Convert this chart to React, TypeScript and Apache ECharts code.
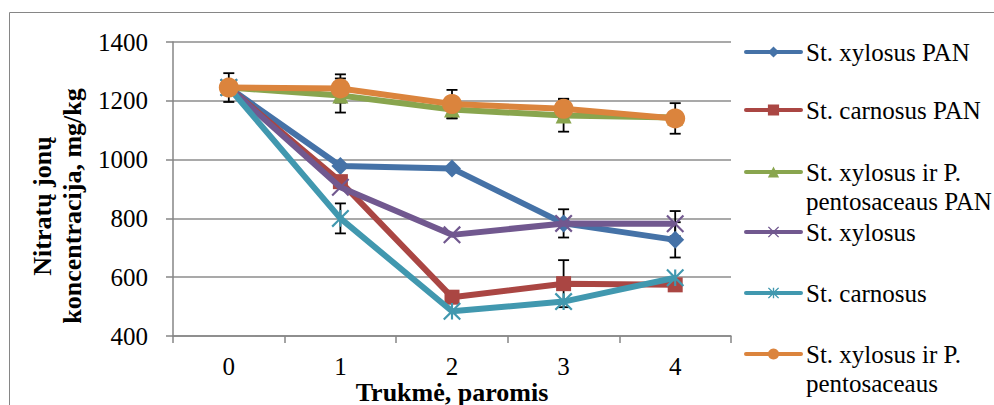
import React, { useEffect, useRef } from "react";
import * as echarts from "echarts";

const categories = ["0", "1", "2", "3", "4"];
const seriesNames = [
  "St. xylosus PAN",
  "St. carnosus PAN",
  "St. xylosus ir P. pentosaceaus PAN",
  "St. xylosus",
  "St. carnosus",
  "St. xylosus ir P. pentosaceaus",
];
const legendLines = [
  ["St. xylosus PAN"],
  ["St. carnosus PAN"],
  ["St. xylosus ir P.", "pentosaceaus PAN"],
  ["St. xylosus"],
  ["St. carnosus"],
  ["St. xylosus ir P.", "pentosaceaus"],
];
const xylosusPAN = [1245, 978, 970, 783, 727];
const carnosusPAN = [1245, 925, 532, 578, 574];
const xylosusPentoPAN = [1245, 1218, 1170, 1150, 1143];
const xylosus = [1245, 906, 744, 783, 782];
const carnosus = [1245, 800, 484, 517, 598];
const xylosusPento = [1245, 1242, 1189, 1173, 1140];
const seriesValues = [xylosusPAN, carnosusPAN, xylosusPentoPAN, xylosus, carnosus, xylosusPento];

const errXylosusPAN = [null, null, null, 48, 60];
const errCarnosusPAN = [null, null, null, 80, null];
const errXylosusPentoPAN = [null, 58, 30, 55, null];
const errXylosus = [null, null, null, null, 43];
const errCarnosus = [null, 51, null, null, null];
const errXylosusPento = [49, 48, 48, 34, 52];
const seriesErrors = [errXylosusPAN, errCarnosusPAN, errXylosusPentoPAN, errXylosus, errCarnosus, errXylosusPento];

const yTicks = { min: 400, max: 1400, interval: 200 };
const xTitle = "Trukmė, paromis";
const yTitle = "Nitratų jonų\nkoncentracija, mg/kg";

const colors = ["#4572A7", "#AA4643", "#89A54E", "#71588F", "#4198AF", "#DB843D"];
const FONT = "'Liberation Serif', 'Times New Roman', serif";

function armsPath(arms: { a: number; l: number }[], w: number): string {
  const sorted = [...arms].sort((p, q) => p.a - q.a);
  const pts: [number, number][] = [];
  const n = sorted.length;
  for (let i = 0; i < n; i++) {
    const { a, l } = sorted[i];
    const r = (a * Math.PI) / 180;
    const cx = l * Math.cos(r);
    const cy = l * Math.sin(r);
    const nx = -Math.sin(r) * (w / 2);
    const ny = Math.cos(r) * (w / 2);
    pts.push([cx - nx, cy - ny]);
    pts.push([cx + nx, cy + ny]);
    const next = sorted[(i + 1) % n];
    let gap = next.a - a;
    if (gap <= 0) gap += 360;
    const m = ((a + gap / 2) * Math.PI) / 180;
    const rr = w / 2 / Math.sin(((gap / 2) * Math.PI) / 180);
    pts.push([rr * Math.cos(m), rr * Math.sin(m)]);
  }
  return (
    "path://" +
    pts.map((p, i) => (i === 0 ? "M" : "L") + (p[0] + 20).toFixed(2) + "," + (p[1] + 20).toFixed(2)).join(" ") +
    " Z"
  );
}

const xSymbol = armsPath(
  [
    { a: 45, l: 14 },
    { a: 135, l: 14 },
    { a: 225, l: 14 },
    { a: 315, l: 14 },
  ],
  2.6
);
const starSymbol = armsPath(
  [
    { a: 45, l: 14 },
    { a: 90, l: 10 },
    { a: 135, l: 14 },
    { a: 225, l: 14 },
    { a: 270, l: 10 },
    { a: 315, l: 14 },
  ],
  2.6
);

const symbols = ["diamond", "rect", "triangle", xSymbol, starSymbol, "circle"];
const symbolSizes = [18, 15, 16, 18, 18, 20];

const legendTops = [37.5, 95.5, 128.5, 217.5, 278.5, 310.5];

export default function App() {
  const ref = useRef<HTMLDivElement>(null);
  useEffect(() => {
    if (!ref.current) return;
    const chart = echarts.init(ref.current, undefined, { renderer: "svg" });

    const lineSeries = seriesNames.map((name, i) => ({
      name,
      type: "line",
      data: seriesValues[i],
      symbol: symbols[i],
      symbolSize: symbolSizes[i],
      symbolKeepAspect: true,
      showAllSymbol: true,
      lineStyle: { color: colors[i], width: 6 },
      itemStyle: { color: colors[i], borderWidth: 0 },
      z: 3 + i,
      emphasis: { disabled: true },
    }));

    const errData: number[][] = [];
    seriesErrors.forEach((errs, si) => {
      errs.forEach((e, ci) => {
        if (e != null) {
          const v = seriesValues[si][ci];
          errData.push([ci, v + e, v - e]);
        }
      });
    });

    const errorSeries = {
      name: "errors",
      type: "custom",
      z: 2,
      data: errData,
      encode: { x: 0, y: [1, 2] },
      renderItem: (params: any, api: any) => {
        const hi = api.coord([api.value(0), api.value(1)]);
        const lo = api.coord([api.value(0), api.value(2)]);
        const c = 5.5;
        const st = { stroke: "#000", lineWidth: 1.8, fill: null };
        return {
          type: "group",
          children: [
            { type: "line", shape: { x1: hi[0], y1: hi[1], x2: lo[0], y2: lo[1] }, style: st },
            { type: "line", shape: { x1: hi[0] - c, y1: hi[1], x2: hi[0] + c, y2: hi[1] }, style: st },
            { type: "line", shape: { x1: lo[0] - c, y1: lo[1], x2: lo[0] + c, y2: lo[1] }, style: st },
          ],
        };
      },
    };

    const legends = seriesNames.map((name, i) => ({
      show: true,
      orient: "vertical",
      left: 744,
      top: legendTops[i],
      padding: 0,
      itemWidth: 55,
      itemHeight: 14,
      selectedMode: false,
      data: [name],
      lineStyle: { width: 4, cap: "round" },
      formatter: () => {
        const ls = legendLines[i];
        return ls.length > 1 ? "\n" + ls.join("\n") : ls[0];
      },
      textStyle: { fontFamily: FONT, fontSize: 25, lineHeight: 29, color: "#000" },
    }));

    chart.setOption({
      animation: false,
      backgroundColor: "#fff",
      grid: { left: 173, right: 263, top: 42, bottom: 69, containLabel: false, outerBoundsMode: "none" },
      legend: legends,
      xAxis: {
        type: "category",
        data: categories,
        boundaryGap: true,
        name: xTitle,
        nameLocation: "middle",
        nameGap: 46,
        nameMoveOverlap: false,
        nameTextStyle: { fontFamily: FONT, fontSize: 26, fontWeight: "bold", color: "#000", lineHeight: 20 },
        axisLine: { show: true, lineStyle: { color: "#868686", width: 1.5 } },
        axisTick: { show: true, length: 7, alignWithLabel: false, lineStyle: { color: "#868686", width: 1.5 } },
        axisLabel: { fontFamily: FONT, fontSize: 25, color: "#000", margin: 19, lineHeight: 22 },
        splitLine: { show: false },
      },
      yAxis: {
        type: "value",
        min: yTicks.min,
        max: yTicks.max,
        interval: yTicks.interval,
        axisLine: { show: true, lineStyle: { color: "#868686", width: 1.5 } },
        axisTick: { show: true, length: 7, lineStyle: { color: "#868686", width: 1.5 } },
        axisLabel: {
          fontFamily: FONT,
          fontSize: 25,
          color: "#000",
          margin: 25,
          formatter: (v: number) => String(v),
        },
        splitLine: { show: true, lineStyle: { color: "#8c8c8c", width: 1.5 } },
      },
      graphic: [
        {
          type: "rect",
          shape: { x: 9.5, y: 12.5, width: 1100, height: 600 },
          style: { fill: null, stroke: "#868686", lineWidth: 1 },
          silent: true,
          z: -1,
        },
        {
          type: "text",
          x: 57,
          y: 206,
          rotation: Math.PI / 2,
          style: {
            text: yTitle,
            fontFamily: FONT,
            fontSize: 26,
            fontWeight: "bold",
            lineHeight: 30,
            align: "center",
            verticalAlign: "middle",
            fill: "#000",
          },
        },
      ],
      series: [errorSeries, ...lineSeries],
    });
    return () => chart.dispose();
  }, []);
  return <div ref={ref} style={{ position: "fixed", left: 0, top: 0, width: 994, height: 405 }} />;
}
